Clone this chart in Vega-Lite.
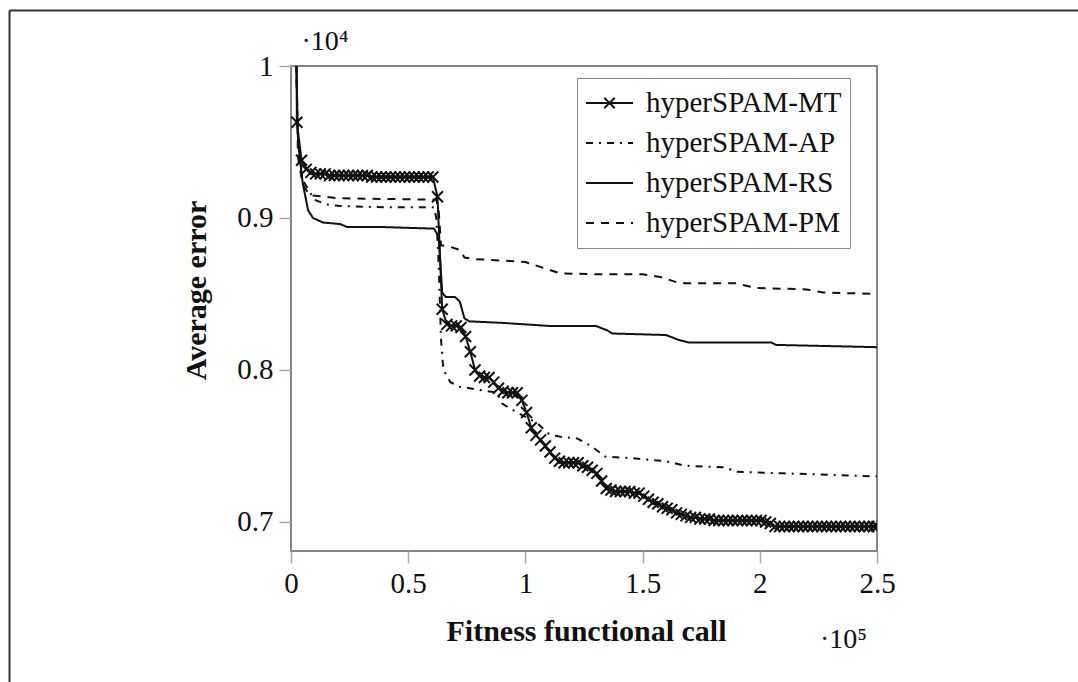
{
  "$schema": "https://vega.github.io/schema/vega-lite/v6.json",
  "width": 586,
  "height": 485,
  "autosize": "none",
  "padding": {"left": 291, "top": 66, "right": 201, "bottom": 131},
  "background": "white",
  "config": {
    "view": {"stroke": "#858585", "strokeWidth": 2},
    "font": "Liberation Serif"
  },
  "datasets": {
    "curves": [
      {"series":"hyperSPAM-MT","x":0.02,"y":1.2},
      {"series":"hyperSPAM-MT","x":0.025,"y":0.963},
      {"series":"hyperSPAM-MT","x":0.045,"y":0.938},
      {"series":"hyperSPAM-MT","x":0.065,"y":0.932},
      {"series":"hyperSPAM-MT","x":0.085,"y":0.930},
      {"series":"hyperSPAM-MT","x":0.105,"y":0.929},
      {"series":"hyperSPAM-MT","x":0.125,"y":0.929},
      {"series":"hyperSPAM-MT","x":0.145,"y":0.929},
      {"series":"hyperSPAM-MT","x":0.165,"y":0.928},
      {"series":"hyperSPAM-MT","x":0.185,"y":0.928},
      {"series":"hyperSPAM-MT","x":0.205,"y":0.928},
      {"series":"hyperSPAM-MT","x":0.225,"y":0.928},
      {"series":"hyperSPAM-MT","x":0.245,"y":0.928},
      {"series":"hyperSPAM-MT","x":0.265,"y":0.928},
      {"series":"hyperSPAM-MT","x":0.285,"y":0.928},
      {"series":"hyperSPAM-MT","x":0.305,"y":0.928},
      {"series":"hyperSPAM-MT","x":0.325,"y":0.928},
      {"series":"hyperSPAM-MT","x":0.345,"y":0.927},
      {"series":"hyperSPAM-MT","x":0.365,"y":0.927},
      {"series":"hyperSPAM-MT","x":0.385,"y":0.927},
      {"series":"hyperSPAM-MT","x":0.405,"y":0.927},
      {"series":"hyperSPAM-MT","x":0.425,"y":0.927},
      {"series":"hyperSPAM-MT","x":0.445,"y":0.927},
      {"series":"hyperSPAM-MT","x":0.465,"y":0.927},
      {"series":"hyperSPAM-MT","x":0.485,"y":0.927},
      {"series":"hyperSPAM-MT","x":0.505,"y":0.927},
      {"series":"hyperSPAM-MT","x":0.525,"y":0.927},
      {"series":"hyperSPAM-MT","x":0.545,"y":0.927},
      {"series":"hyperSPAM-MT","x":0.565,"y":0.927},
      {"series":"hyperSPAM-MT","x":0.585,"y":0.927},
      {"series":"hyperSPAM-MT","x":0.605,"y":0.927},
      {"series":"hyperSPAM-MT","x":0.625,"y":0.914},
      {"series":"hyperSPAM-MT","x":0.645,"y":0.840},
      {"series":"hyperSPAM-MT","x":0.665,"y":0.830},
      {"series":"hyperSPAM-MT","x":0.685,"y":0.829},
      {"series":"hyperSPAM-MT","x":0.705,"y":0.829},
      {"series":"hyperSPAM-MT","x":0.725,"y":0.828},
      {"series":"hyperSPAM-MT","x":0.745,"y":0.822},
      {"series":"hyperSPAM-MT","x":0.765,"y":0.812},
      {"series":"hyperSPAM-MT","x":0.785,"y":0.800},
      {"series":"hyperSPAM-MT","x":0.805,"y":0.796},
      {"series":"hyperSPAM-MT","x":0.825,"y":0.795},
      {"series":"hyperSPAM-MT","x":0.845,"y":0.795},
      {"series":"hyperSPAM-MT","x":0.865,"y":0.792},
      {"series":"hyperSPAM-MT","x":0.885,"y":0.788},
      {"series":"hyperSPAM-MT","x":0.905,"y":0.786},
      {"series":"hyperSPAM-MT","x":0.925,"y":0.785},
      {"series":"hyperSPAM-MT","x":0.945,"y":0.785},
      {"series":"hyperSPAM-MT","x":0.965,"y":0.785},
      {"series":"hyperSPAM-MT","x":0.985,"y":0.780},
      {"series":"hyperSPAM-MT","x":1.005,"y":0.772},
      {"series":"hyperSPAM-MT","x":1.025,"y":0.762},
      {"series":"hyperSPAM-MT","x":1.045,"y":0.757},
      {"series":"hyperSPAM-MT","x":1.065,"y":0.754},
      {"series":"hyperSPAM-MT","x":1.085,"y":0.750},
      {"series":"hyperSPAM-MT","x":1.105,"y":0.746},
      {"series":"hyperSPAM-MT","x":1.125,"y":0.742},
      {"series":"hyperSPAM-MT","x":1.145,"y":0.740},
      {"series":"hyperSPAM-MT","x":1.165,"y":0.739},
      {"series":"hyperSPAM-MT","x":1.185,"y":0.739},
      {"series":"hyperSPAM-MT","x":1.205,"y":0.739},
      {"series":"hyperSPAM-MT","x":1.225,"y":0.739},
      {"series":"hyperSPAM-MT","x":1.245,"y":0.737},
      {"series":"hyperSPAM-MT","x":1.265,"y":0.736},
      {"series":"hyperSPAM-MT","x":1.285,"y":0.734},
      {"series":"hyperSPAM-MT","x":1.305,"y":0.732},
      {"series":"hyperSPAM-MT","x":1.325,"y":0.727},
      {"series":"hyperSPAM-MT","x":1.345,"y":0.722},
      {"series":"hyperSPAM-MT","x":1.365,"y":0.721},
      {"series":"hyperSPAM-MT","x":1.385,"y":0.720},
      {"series":"hyperSPAM-MT","x":1.405,"y":0.720},
      {"series":"hyperSPAM-MT","x":1.425,"y":0.720},
      {"series":"hyperSPAM-MT","x":1.445,"y":0.720},
      {"series":"hyperSPAM-MT","x":1.465,"y":0.719},
      {"series":"hyperSPAM-MT","x":1.485,"y":0.719},
      {"series":"hyperSPAM-MT","x":1.505,"y":0.717},
      {"series":"hyperSPAM-MT","x":1.525,"y":0.715},
      {"series":"hyperSPAM-MT","x":1.545,"y":0.713},
      {"series":"hyperSPAM-MT","x":1.565,"y":0.712},
      {"series":"hyperSPAM-MT","x":1.585,"y":0.710},
      {"series":"hyperSPAM-MT","x":1.605,"y":0.709},
      {"series":"hyperSPAM-MT","x":1.625,"y":0.708},
      {"series":"hyperSPAM-MT","x":1.645,"y":0.706},
      {"series":"hyperSPAM-MT","x":1.665,"y":0.705},
      {"series":"hyperSPAM-MT","x":1.685,"y":0.704},
      {"series":"hyperSPAM-MT","x":1.705,"y":0.703},
      {"series":"hyperSPAM-MT","x":1.725,"y":0.703},
      {"series":"hyperSPAM-MT","x":1.745,"y":0.702},
      {"series":"hyperSPAM-MT","x":1.765,"y":0.702},
      {"series":"hyperSPAM-MT","x":1.785,"y":0.702},
      {"series":"hyperSPAM-MT","x":1.805,"y":0.701},
      {"series":"hyperSPAM-MT","x":1.825,"y":0.701},
      {"series":"hyperSPAM-MT","x":1.845,"y":0.701},
      {"series":"hyperSPAM-MT","x":1.865,"y":0.701},
      {"series":"hyperSPAM-MT","x":1.885,"y":0.701},
      {"series":"hyperSPAM-MT","x":1.905,"y":0.701},
      {"series":"hyperSPAM-MT","x":1.925,"y":0.701},
      {"series":"hyperSPAM-MT","x":1.945,"y":0.701},
      {"series":"hyperSPAM-MT","x":1.965,"y":0.701},
      {"series":"hyperSPAM-MT","x":1.985,"y":0.701},
      {"series":"hyperSPAM-MT","x":2.005,"y":0.701},
      {"series":"hyperSPAM-MT","x":2.025,"y":0.700},
      {"series":"hyperSPAM-MT","x":2.045,"y":0.699},
      {"series":"hyperSPAM-MT","x":2.065,"y":0.697},
      {"series":"hyperSPAM-MT","x":2.085,"y":0.697},
      {"series":"hyperSPAM-MT","x":2.105,"y":0.697},
      {"series":"hyperSPAM-MT","x":2.125,"y":0.697},
      {"series":"hyperSPAM-MT","x":2.145,"y":0.697},
      {"series":"hyperSPAM-MT","x":2.165,"y":0.697},
      {"series":"hyperSPAM-MT","x":2.185,"y":0.697},
      {"series":"hyperSPAM-MT","x":2.205,"y":0.697},
      {"series":"hyperSPAM-MT","x":2.225,"y":0.697},
      {"series":"hyperSPAM-MT","x":2.245,"y":0.697},
      {"series":"hyperSPAM-MT","x":2.265,"y":0.697},
      {"series":"hyperSPAM-MT","x":2.285,"y":0.697},
      {"series":"hyperSPAM-MT","x":2.305,"y":0.697},
      {"series":"hyperSPAM-MT","x":2.325,"y":0.697},
      {"series":"hyperSPAM-MT","x":2.345,"y":0.697},
      {"series":"hyperSPAM-MT","x":2.365,"y":0.697},
      {"series":"hyperSPAM-MT","x":2.385,"y":0.697},
      {"series":"hyperSPAM-MT","x":2.405,"y":0.697},
      {"series":"hyperSPAM-MT","x":2.425,"y":0.697},
      {"series":"hyperSPAM-MT","x":2.445,"y":0.697},
      {"series":"hyperSPAM-MT","x":2.465,"y":0.697},
      {"series":"hyperSPAM-MT","x":2.485,"y":0.697},
      {"series":"hyperSPAM-MT","x":2.5,"y":0.697},

      {"series":"hyperSPAM-AP","x":0.02,"y":1.02},
      {"series":"hyperSPAM-AP","x":0.03,"y":0.95},
      {"series":"hyperSPAM-AP","x":0.05,"y":0.925},
      {"series":"hyperSPAM-AP","x":0.1,"y":0.912},
      {"series":"hyperSPAM-AP","x":0.15,"y":0.909},
      {"series":"hyperSPAM-AP","x":0.2,"y":0.908},
      {"series":"hyperSPAM-AP","x":0.4,"y":0.907},
      {"series":"hyperSPAM-AP","x":0.61,"y":0.907},
      {"series":"hyperSPAM-AP","x":0.62,"y":0.9},
      {"series":"hyperSPAM-AP","x":0.63,"y":0.87},
      {"series":"hyperSPAM-AP","x":0.64,"y":0.82},
      {"series":"hyperSPAM-AP","x":0.65,"y":0.80},
      {"series":"hyperSPAM-AP","x":0.68,"y":0.792},
      {"series":"hyperSPAM-AP","x":0.72,"y":0.789},
      {"series":"hyperSPAM-AP","x":0.8,"y":0.787},
      {"series":"hyperSPAM-AP","x":0.88,"y":0.785},
      {"series":"hyperSPAM-AP","x":0.9,"y":0.778},
      {"series":"hyperSPAM-AP","x":0.93,"y":0.775},
      {"series":"hyperSPAM-AP","x":0.99,"y":0.770},
      {"series":"hyperSPAM-AP","x":1.05,"y":0.765},
      {"series":"hyperSPAM-AP","x":1.1,"y":0.758},
      {"series":"hyperSPAM-AP","x":1.15,"y":0.756},
      {"series":"hyperSPAM-AP","x":1.22,"y":0.755},
      {"series":"hyperSPAM-AP","x":1.28,"y":0.750},
      {"series":"hyperSPAM-AP","x":1.34,"y":0.743},
      {"series":"hyperSPAM-AP","x":1.45,"y":0.742},
      {"series":"hyperSPAM-AP","x":1.6,"y":0.740},
      {"series":"hyperSPAM-AP","x":1.68,"y":0.737},
      {"series":"hyperSPAM-AP","x":1.85,"y":0.736},
      {"series":"hyperSPAM-AP","x":1.9,"y":0.733},
      {"series":"hyperSPAM-AP","x":2.1,"y":0.732},
      {"series":"hyperSPAM-AP","x":2.3,"y":0.731},
      {"series":"hyperSPAM-AP","x":2.5,"y":0.730},

      {"series":"hyperSPAM-RS","x":0.02,"y":1.02},
      {"series":"hyperSPAM-RS","x":0.03,"y":0.95},
      {"series":"hyperSPAM-RS","x":0.05,"y":0.923},
      {"series":"hyperSPAM-RS","x":0.073,"y":0.905},
      {"series":"hyperSPAM-RS","x":0.094,"y":0.900},
      {"series":"hyperSPAM-RS","x":0.137,"y":0.897},
      {"series":"hyperSPAM-RS","x":0.21,"y":0.896},
      {"series":"hyperSPAM-RS","x":0.24,"y":0.894},
      {"series":"hyperSPAM-RS","x":0.4,"y":0.894},
      {"series":"hyperSPAM-RS","x":0.61,"y":0.893},
      {"series":"hyperSPAM-RS","x":0.63,"y":0.888},
      {"series":"hyperSPAM-RS","x":0.645,"y":0.851},
      {"series":"hyperSPAM-RS","x":0.66,"y":0.848},
      {"series":"hyperSPAM-RS","x":0.70,"y":0.848},
      {"series":"hyperSPAM-RS","x":0.72,"y":0.845},
      {"series":"hyperSPAM-RS","x":0.74,"y":0.834},
      {"series":"hyperSPAM-RS","x":0.76,"y":0.832},
      {"series":"hyperSPAM-RS","x":0.9,"y":0.831},
      {"series":"hyperSPAM-RS","x":1.0,"y":0.830},
      {"series":"hyperSPAM-RS","x":1.1,"y":0.829},
      {"series":"hyperSPAM-RS","x":1.3,"y":0.829},
      {"series":"hyperSPAM-RS","x":1.35,"y":0.826},
      {"series":"hyperSPAM-RS","x":1.37,"y":0.824},
      {"series":"hyperSPAM-RS","x":1.6,"y":0.823},
      {"series":"hyperSPAM-RS","x":1.65,"y":0.820},
      {"series":"hyperSPAM-RS","x":1.7,"y":0.818},
      {"series":"hyperSPAM-RS","x":2.05,"y":0.818},
      {"series":"hyperSPAM-RS","x":2.07,"y":0.8165},
      {"series":"hyperSPAM-RS","x":2.5,"y":0.815},

      {"series":"hyperSPAM-PM","x":0.02,"y":1.02},
      {"series":"hyperSPAM-PM","x":0.03,"y":0.94},
      {"series":"hyperSPAM-PM","x":0.05,"y":0.922},
      {"series":"hyperSPAM-PM","x":0.08,"y":0.915},
      {"series":"hyperSPAM-PM","x":0.2,"y":0.913},
      {"series":"hyperSPAM-PM","x":0.62,"y":0.912},
      {"series":"hyperSPAM-PM","x":0.63,"y":0.905},
      {"series":"hyperSPAM-PM","x":0.64,"y":0.882},
      {"series":"hyperSPAM-PM","x":0.68,"y":0.881},
      {"series":"hyperSPAM-PM","x":0.72,"y":0.879},
      {"series":"hyperSPAM-PM","x":0.74,"y":0.874},
      {"series":"hyperSPAM-PM","x":0.78,"y":0.873},
      {"series":"hyperSPAM-PM","x":0.9,"y":0.872},
      {"series":"hyperSPAM-PM","x":1.0,"y":0.871},
      {"series":"hyperSPAM-PM","x":1.1,"y":0.866},
      {"series":"hyperSPAM-PM","x":1.15,"y":0.8635},
      {"series":"hyperSPAM-PM","x":1.3,"y":0.863},
      {"series":"hyperSPAM-PM","x":1.5,"y":0.863},
      {"series":"hyperSPAM-PM","x":1.58,"y":0.861},
      {"series":"hyperSPAM-PM","x":1.66,"y":0.857},
      {"series":"hyperSPAM-PM","x":1.9,"y":0.857},
      {"series":"hyperSPAM-PM","x":1.98,"y":0.854},
      {"series":"hyperSPAM-PM","x":2.2,"y":0.853},
      {"series":"hyperSPAM-PM","x":2.27,"y":0.851},
      {"series":"hyperSPAM-PM","x":2.5,"y":0.850}
    ]
  },
  "layer": [
    {
      "data": {"name": "curves"},
      "mark": {"type": "line", "clip": true, "color": "#111", "strokeWidth": 2},
      "encoding": {
        "x": {
          "field": "x", "type": "quantitative",
          "scale": {"domain": [0, 2.5], "zero": false, "nice": false},
          "axis": {
            "values": [0, 0.5, 1, 1.5, 2, 2.5],
            "labelExpr": "format(datum.value, '~g')",
            "domain": false, "grid": false,
            "tickColor": "#aaaaaa", "tickWidth": 1.5, "tickSize": 12,
            "labelFont": "Liberation Serif", "labelFontSize": 29, "labelColor": "#111",
            "labelPadding": 6, "labelFlush": false,
            "title": "Fitness functional call",
            "titleFont": "Liberation Serif", "titleFontSize": 30, "titleFontWeight": "bold", "titleColor": "#111",
            "titleBaseline": "middle", "titleAlign": "center", "titleX": 295, "titleY": 80
          }
        },
        "y": {
          "field": "y", "type": "quantitative",
          "scale": {"domain": [0.6809, 1.0], "zero": false, "nice": false},
          "axis": {
            "values": [0.7, 0.8, 0.9, 1.0],
            "labelExpr": "format(datum.value, '~g')",
            "domain": false, "grid": false,
            "tickColor": "#aaaaaa", "tickWidth": 1.5, "tickSize": 12,
            "labelFont": "Liberation Serif", "labelFontSize": 29, "labelColor": "#111",
            "labelPadding": 6, "labelFlush": false,
            "title": "Average error",
            "titleFont": "Liberation Serif", "titleFontSize": 30, "titleFontWeight": "bold", "titleColor": "#111",
            "titleAngle": -90, "titleBaseline": "middle", "titleAlign": "center", "titleX": -95, "titleY": 224
          }
        },
        "detail": {"field": "series"},
        "strokeDash": {
          "field": "series", "type": "nominal",
          "scale": {
            "domain": ["hyperSPAM-MT", "hyperSPAM-AP", "hyperSPAM-RS", "hyperSPAM-PM"],
            "range": [[1, 0], [7, 6, 2, 6], [1, 0], [8, 7]]
          },
          "legend": {
            "title": null,
            "orient": "none", "legendX": 286, "legendY": 12,
            "symbolType": "stroke", "symbolSize": 2209, "symbolStrokeWidth": 2, "symbolStrokeColor": "#111",
            "labelFont": "Liberation Serif", "labelFontSize": 29, "labelColor": "#111",
            "labelLimit": 400, "labelOffset": 12,
            "clipHeight": 34,
            "padding": 8, "rowPadding": 6,
            "strokeColor": "#888888", "fillColor": "white",
            "encode": {
              "symbols": {
                "update": {
                  "shape": {"signal": "datum.value === 'hyperSPAM-MT' ? 'M-1,0L1,0M-0.22,-0.22L0.22,0.22M-0.22,0.22L0.22,-0.22' : 'stroke'"}
                }
              }
            }
          }
        }
      }
    },
    {
      "data": {"name": "curves"},
      "transform": [{"filter": "datum.series === 'hyperSPAM-MT'"}],
      "mark": {
        "type": "point", "clip": true, "filled": false,
        "shape": "M-1,-1L1,1M-1,1L1,-1", "size": 121,
        "stroke": "#111", "strokeWidth": 2, "opacity": 1
      },
      "encoding": {
        "x": {"field": "x", "type": "quantitative"},
        "y": {"field": "y", "type": "quantitative"}
      }
    },
    {
      "data": {"values": [{"label": "·10⁴"}]},
      "mark": {"type": "text", "align": "left", "baseline": "middle", "font": "Liberation Serif", "fontSize": 28, "color": "#111"},
      "encoding": {
        "x": {"datum": 0.045},
        "y": {"datum": 1.0158},
        "text": {"field": "label"}
      }
    },
    {
      "data": {"values": [{"label": "·10⁵"}]},
      "mark": {"type": "text", "align": "left", "baseline": "middle", "font": "Liberation Serif", "fontSize": 28, "color": "#111"},
      "encoding": {
        "x": {"datum": 2.257},
        "y": {"datum": 0.6224},
        "text": {"field": "label"}
      }
    },
    {
      "data": {"values": [{"edge": "top"}]},
      "mark": {"type": "rule", "color": "#333333", "strokeWidth": 2},
      "encoding": {
        "x": {"datum": -1.2009},
        "x2": {"datum": 3.6},
        "y": {"datum": 1.0365}
      }
    },
    {
      "data": {"values": [{"edge": "left"}]},
      "mark": {"type": "rule", "color": "#333333", "strokeWidth": 2},
      "encoding": {
        "x": {"datum": -1.2009},
        "y": {"datum": 1.0365},
        "y2": {"datum": 0.5}
      }
    }
  ]
}
